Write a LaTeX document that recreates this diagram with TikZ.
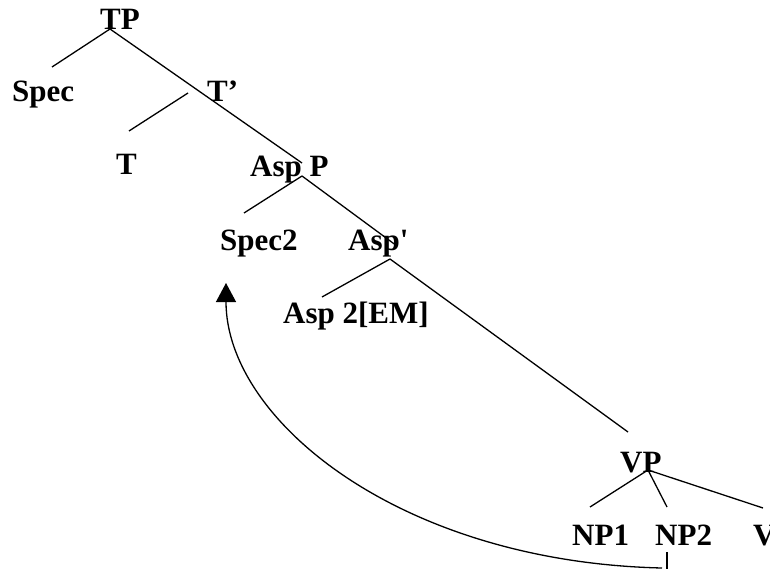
\documentclass[tikz,border=0pt]{standalone}
\usepackage{fontspec}
\newfontfamily\treefont{Liberation Serif}
\usetikzlibrary{arrows.meta}
\begin{document}
\begin{tikzpicture}[x=1pt,y=-1pt,
  lbl/.style={anchor=base west,inner sep=0pt,font=\treefont\bfseries\fontsize{31}{37}\selectfont},
  branch/.style={line width=1.3pt},
  movement/.style={line width=1.3pt,-{Triangle[width=20pt,length=19pt]}}]
\clip (0,0) rectangle (770,569);
\useasboundingbox (0,0) rectangle (770,569);
% category labels
\node[lbl] (TP)    at (100,30)  {TP};
\node[lbl] (Spec)  at (12,102)  {Spec};
\node[lbl] (Tbar)  at (207,102) {T’};
\node[lbl] (T)     at (116,175) {T};
\node[lbl] (AspP)  at (250,177) {Asp P};
\node[lbl] (Spec2) at (220,250) {Spec2};
\node[lbl] (Aspbar) at (348,250) {Asp'};
\node[lbl] (Asp2)  at (283,323) {Asp 2[EM]};
\node[lbl] (VP)    at (620,472) {VP};
\node[lbl] (NP1)   at (572,545) {NP1};
\node[lbl] (NP2)   at (655,545) {NP2};
\node[lbl] (V)     at (753,545) {V};
% branch end points
\coordinate (TP-f)     at (110,29);
\coordinate (Spec-t)   at (52,67);
\coordinate (Tbar-t)   at (188,93);
\coordinate (T-t)      at (129,131);
\coordinate (AspP-t)   at (302,163);
\coordinate (AspP-f)   at (302,176);
\coordinate (Spec2-t)  at (244,213);
\coordinate (Aspbar-t) at (397,246);
\coordinate (Aspbar-f) at (390,259);
\coordinate (Asp2-t)   at (322,297);
\coordinate (VP-t)     at (628,432);
\coordinate (VP-f)     at (648,470);
\coordinate (NP1-t)    at (590,507);
\coordinate (NP2-t)    at (667,507);
\coordinate (V-t)      at (763,508);
\coordinate (NP2-f)    at (667,552);
\coordinate (NP2-e)    at (667,569);
\coordinate (trace)    at (662,568);
\coordinate (Spec2-b)  at (226,283);
% tree branches
\draw[branch] (TP-f) -- (Spec-t);
\draw[branch] (TP-f) -- (AspP-t);
\draw[branch] (Tbar-t) -- (T-t);
\draw[branch] (AspP-f) -- (Spec2-t);
\draw[branch] (AspP-f) -- (Aspbar-t);
\draw[branch] (Aspbar-f) -- (Asp2-t);
\draw[branch] (Aspbar-f) -- (VP-t);
\draw[branch] (VP-f) -- (NP1-t);
\draw[branch] (VP-f) -- (NP2-t);
\draw[branch] (VP-f) -- (V-t);
\draw[branch] (NP2-f) -- (NP2-e);
% movement arrow from NP2 up to Spec2
\draw[movement] (trace) .. controls (400,562) and (226,420) .. (Spec2-b);
\end{tikzpicture}
\end{document}
